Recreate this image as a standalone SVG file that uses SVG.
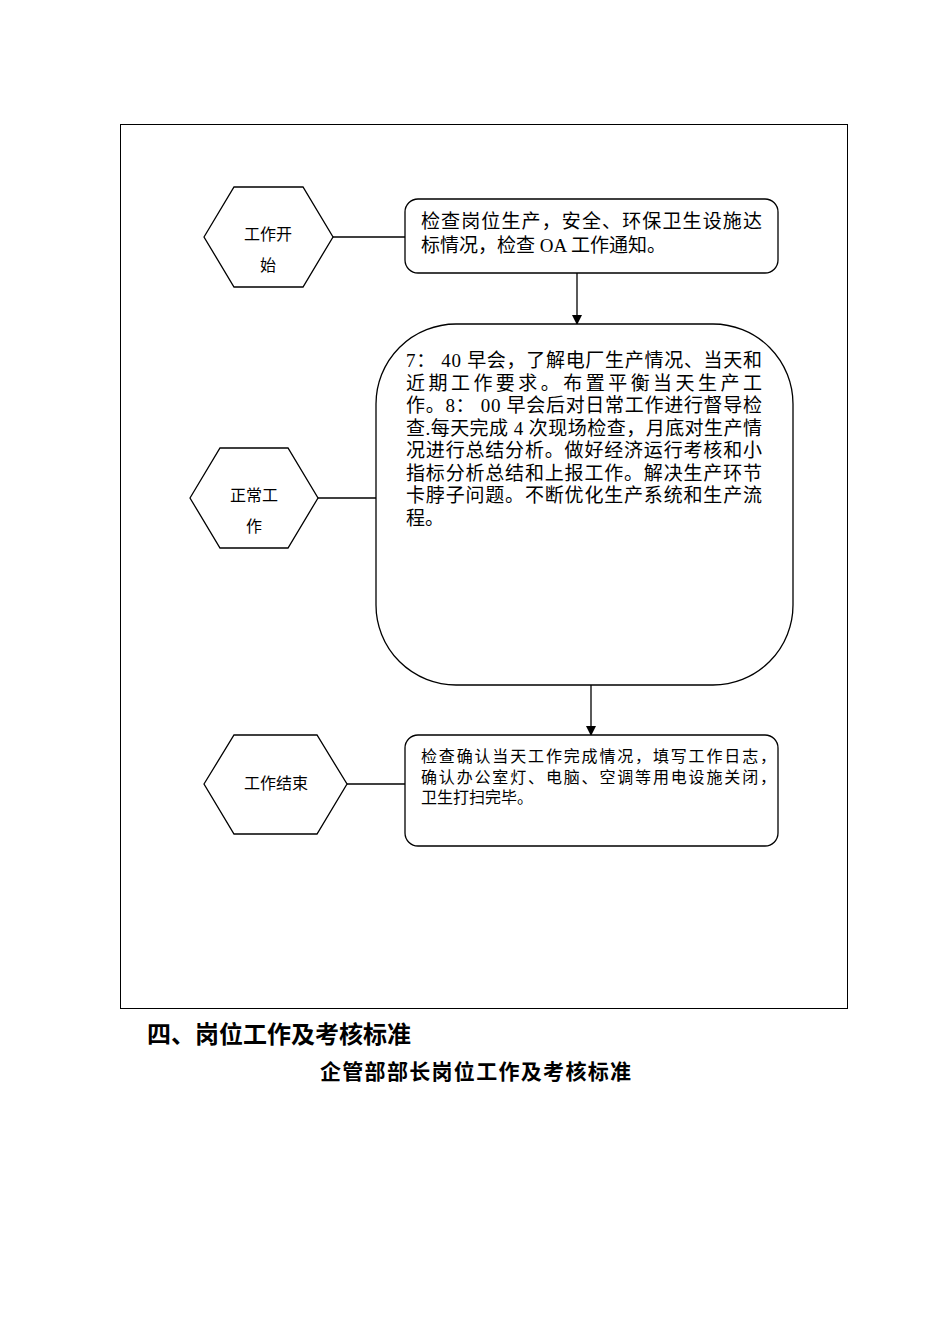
<svg xmlns="http://www.w3.org/2000/svg" width="950" height="1344" viewBox="0 0 950 1344">
<defs>
<style>
.shape{fill:#fff;stroke:#000;stroke-width:1.3}
.ln{stroke:#000;stroke-width:1.3;fill:none}
.hx{font-family:"Liberation Sans","Noto Sans CJK SC",sans-serif;font-size:16px;fill:#000;text-anchor:middle}
.bt{font-family:"Liberation Serif","Noto Sans CJK SC",serif;font-size:19px;fill:#000}
.st{font-family:"Liberation Serif","Noto Sans CJK SC",serif;font-size:16px;fill:#000}
.h1{font-family:"Liberation Serif","Noto Sans CJK SC",serif;font-size:24px;font-weight:bold;fill:#000}
.h2{font-family:"Liberation Serif","Noto Sans CJK SC",serif;font-size:21px;font-weight:bold;fill:#000}
</style>
<marker id="arr" markerWidth="10" markerHeight="10" refX="9" refY="5" orient="auto" markerUnits="userSpaceOnUse">
<path d="M0,0 L10,5 L0,10 z" fill="#000"/>
</marker>
</defs>
<rect width="950" height="1344" fill="#fff"/>
<rect x="120.5" y="124.5" width="727" height="884" fill="none" stroke="#000" stroke-width="1"/>
<g id="connectors">
<line class="ln" x1="333" y1="237" x2="405" y2="237"/>
<line class="ln" x1="577" y1="273" x2="577" y2="324" marker-end="url(#arr)"/>
<line class="ln" x1="318" y1="498" x2="376" y2="498"/>
<line class="ln" x1="591" y1="685" x2="591" y2="735" marker-end="url(#arr)"/>
<line class="ln" x1="347" y1="784" x2="405" y2="784"/>
</g>
<g id="hex-start">
<polygon class="shape" points="204,237 234,187 303,187 333,237 303,287 234,287"/>
<text class="hx" x="268" y="240">工作开</text>
<text class="hx" x="268" y="271">始</text>
</g>
<g id="box-start">
<rect class="shape" x="405" y="199" width="373" height="74" rx="13"/>
<text class="bt" x="421" y="228" textLength="341" lengthAdjust="spacing">检查岗位生产，安全、环保卫生设施达</text>
<text class="bt" x="421" y="252">标情况，检查 OA 工作通知。</text>
</g>
<g id="hex-normal">
<polygon class="shape" points="190,498 220,448 288,448 318,498 288,548 220,548"/>
<text class="hx" x="254" y="501">正常工</text>
<text class="hx" x="254" y="532">作</text>
</g>
<g id="box-normal">
<rect class="shape" x="376" y="324" width="417" height="361" rx="80"/>
<text class="bt" x="406" y="367" textLength="356" lengthAdjust="spacing">7： 40 早会，了解电厂生产情况、当天和</text>
<text class="bt" x="406" y="390" textLength="356" lengthAdjust="spacing">近期工作要求。布置平衡当天生产工</text>
<text class="bt" x="406" y="412" textLength="356" lengthAdjust="spacing">作。8： 00 早会后对日常工作进行督导检</text>
<text class="bt" x="406" y="435" textLength="356" lengthAdjust="spacing">查.每天完成 4 次现场检查，月底对生产情</text>
<text class="bt" x="406" y="457" textLength="356" lengthAdjust="spacing">况进行总结分析。做好经济运行考核和小</text>
<text class="bt" x="406" y="480" textLength="356" lengthAdjust="spacing">指标分析总结和上报工作。解决生产环节</text>
<text class="bt" x="406" y="502" textLength="356" lengthAdjust="spacing">卡脖子问题。不断优化生产系统和生产流</text>
<text class="bt" x="406" y="525">程。</text>
</g>
<g id="hex-end">
<polygon class="shape" points="204,784 234,735 317,735 347,784 317,834 234,834"/>
<text class="hx" x="276" y="789">工作结束</text>
</g>
<g id="box-end">
<rect class="shape" x="405" y="735" width="373" height="111" rx="13"/>
<text class="st" x="421" y="762" textLength="355" lengthAdjust="spacing">检查确认当天工作完成情况，填写工作日志，</text>
<text class="st" x="421" y="783" textLength="355" lengthAdjust="spacing">确认办公室灯、电脑、空调等用电设施关闭，</text>
<text class="st" x="421" y="803">卫生打扫完毕。</text>
</g>
<text class="h1" x="147" y="1043">四、岗位工作及考核标准</text>
<text class="h2" x="320" y="1079" textLength="311" lengthAdjust="spacing">企管部部长岗位工作及考核标准</text>
</svg>
